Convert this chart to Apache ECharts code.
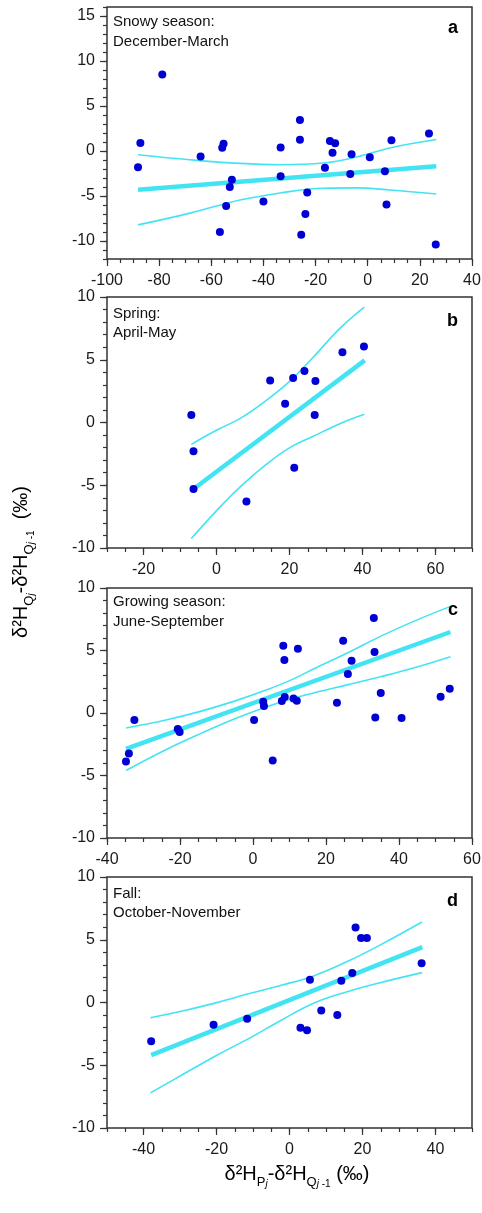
<!DOCTYPE html>
<html><head><meta charset="utf-8">
<script src="https://cdn.jsdelivr.net/npm/echarts@6/dist/echarts.min.js"></script>
<style>html,body{margin:0;padding:0;background:#fff}#c{width:482px;height:1213px}</style>
</head><body><div id="c"></div>
<script>
// ---- data ----
const pointsA = [[-88.1,-1.8],[-87.2,0.9],[-78.8,8.5],[-64.1,-0.6],[-55.3,0.8],[-55.8,0.35],[-52.1,-3.2],[-52.9,-4.0],[-54.3,-6.1],[-56.7,-9.0],[-40.0,-5.6],[-33.4,0.4],[-33.4,-2.8],[-26.0,3.45],[-26.0,1.25],[-25.5,-9.3],[-23.9,-7.0],[-23.2,-4.6],[-16.4,-1.85],[-14.5,1.1],[-12.5,0.85],[-13.5,-0.2],[-6.2,-0.35],[-6.7,-2.55],[0.8,-0.7],[6.6,-2.25],[7.2,-5.95],[9.1,1.2],[23.5,1.95],[26.1,-10.4]];
const regA = [[-88.1,-4.3],[26.3,-1.7]];
const upperA = [[-88.1,-0.41],[-68.1,-0.97],[-49,-1.38],[-33.6,-1.53],[-17,-1.34],[-4.3,-0.67],[8.5,0.34],[26.3,1.27]];
const lowerA = [[-88.1,-8.21],[-68.1,-6.9],[-49,-5.45],[-33.6,-4.66],[-17,-4.14],[-4.3,-4.1],[8.5,-4.33],[26.3,-4.78]];

const pointsB = [[-6.9,0.6],[-6.3,-2.3],[-6.3,-5.3],[8.2,-6.3],[14.7,3.35],[18.8,1.5],[21.0,3.55],[21.3,-3.6],[24.1,4.1],[27.1,3.3],[26.9,0.6],[34.5,5.6],[40.4,6.05]];
const regB = [[-6.3,-5.3],[40.6,4.95]];
const upperB = [[-6.9,-1.74],[0.1,-0.6],[6.5,0.33],[13.8,1.8],[20.1,3.3],[26.5,5.2],[33.8,7.5],[40.5,9.2]];
const lowerB = [[-6.9,-9.25],[0.1,-7.0],[6.5,-5.13],[13.8,-3.3],[20.1,-2.0],[26.5,-1.1],[33.8,-0.1],[40.5,0.65]];

const pointsC = [[-34.8,-3.87],[-34.0,-3.23],[-32.5,-0.56],[-20.6,-1.28],[-20.1,-1.52],[0.3,-0.56],[2.8,0.91],[3.0,0.56],[5.4,-3.79],[7.9,0.96],[8.7,1.28],[8.3,5.39],[8.6,4.24],[11.1,1.17],[12.0,0.99],[12.3,5.15],[23.0,0.83],[24.7,5.79],[26.0,3.12],[27.0,4.19],[33.1,7.6],[33.3,4.88],[33.5,-0.35],[35.0,1.6],[40.7,-0.4],[51.4,1.31],[53.9,1.95]];
const regC = [[-34.8,-2.87],[54.1,6.48]];
const upperC = [[-34.8,-1.2],[-23.6,-0.54],[-14.4,0.13],[-5.3,0.93],[3.8,1.86],[10.2,2.61],[16.6,3.52],[25.8,4.8],[34.9,6.13],[44.0,7.33],[54.1,8.53]];
const lowerC = [[-34.8,-4.6],[-23.6,-2.9],[-14.4,-1.65],[-5.3,-0.5],[3.8,0.5],[10.2,1.1],[16.6,1.6],[25.8,2.25],[34.9,2.9],[44.0,3.6],[54.1,4.5]];

const pointsD = [[-37.9,-3.08],[-20.8,-1.77],[-11.6,-1.29],[3.0,-2.01],[4.8,-2.22],[5.6,1.82],[8.7,-0.63],[13.1,-1.0],[14.2,1.74],[17.2,2.36],[18.1,5.98],[19.6,5.13],[21.2,5.13],[36.2,3.13]];
const regD = [[-37.9,-4.19],[36.4,4.41]];
const upperD = [[-38.1,-1.21],[-29.0,-0.65],[-19.9,-0.01],[-10.7,0.73],[-2.5,1.35],[6.6,2.12],[15.8,3.26],[24.9,4.59],[36.3,6.41]];
const lowerD = [[-38.1,-7.2],[-29.0,-5.7],[-19.9,-4.2],[-10.7,-2.8],[-2.5,-1.45],[6.6,-0.06],[15.8,0.86],[24.9,1.58],[36.3,2.38]];

const xTicksA = [-100,-80,-60,-40,-20,0,20,40];
const yTicksA = [-10,-5,0,5,10,15];
const xTicksB = [-20,0,20,40,60];
const xTicksC = [-40,-20,0,20,40,60];
const xTicksD = [-40,-20,0,20,40];
const yTicksBCD = [-10,-5,0,5,10];

const titlesText = [['Snowy season:','December-March'],['Spring:','April-May'],['Growing season:','June-September'],['Fall:','October-November']];
const letters = ['a','b','c','d'];

// ---- layout / style ----
const FONT = '"Liberation Sans", Arial, sans-serif';
const CYAN = '#42e4f4';
const BLUE = '#0000d4';
const AX = '#333333';
const panels = [
  {pts:pointsA, reg:regA, up:upperA, lo:lowerA, xr:[-100,40], yr:[-12,16], xt:xTicksA, yt:yTicksA, top:7, h:252, ty:12.5, ly:28.5},
  {pts:pointsB, reg:regB, up:upperB, lo:lowerB, xr:[-30,70], yr:[-10,10], xt:xTicksB, yt:yTicksBCD, top:297, h:251, ty:304, ly:321},
  {pts:pointsC, reg:regC, up:upperC, lo:lowerC, xr:[-40,60], yr:[-10,10], xt:xTicksC, yt:yTicksBCD, top:588, h:250, ty:592.5, ly:610.5},
  {pts:pointsD, reg:regD, up:upperD, lo:lowerD, xr:[-50,50], yr:[-10,10], xt:xTicksD, yt:yTicksBCD, top:877, h:251, ty:884, ly:901.5}
];

const grid=[], xAxis=[], yAxis=[], series=[], graphic=[];
const tickLine = {color:AX, width:1.2};
const noLine = {show:false, onZero:false};
panels.forEach((p,i)=>{
  grid.push({left:107, width:365, top:p.top, height:p.h, show:true, borderColor:AX, borderWidth:1.5,
    backgroundColor:'transparent', containLabel:false, outerBoundsMode:'none'});
  xAxis.push({type:'value', gridIndex:i, position:'bottom', min:p.xr[0], max:p.xr[1], interval:5,
    axisLine:noLine, splitLine:{show:false}, axisTick:{show:true, length:4, lineStyle:tickLine}, axisLabel:{show:false}});
  xAxis.push({type:'value', gridIndex:i, position:'bottom', min:p.xr[0], max:p.xr[1],
    axisLine:noLine, splitLine:{show:false},
    axisTick:{show:true, length:7, customValues:p.xt, lineStyle:tickLine},
    axisLabel:{show:true, customValues:p.xt, fontSize:16, fontFamily:FONT, color:'#1a1a1a', margin:14}});
  yAxis.push({type:'value', gridIndex:i, position:'left', min:p.yr[0], max:p.yr[1], interval:1,
    axisLine:noLine, splitLine:{show:false}, axisTick:{show:true, length:4, lineStyle:tickLine}, axisLabel:{show:false}});
  yAxis.push({type:'value', gridIndex:i, position:'left', min:p.yr[0], max:p.yr[1],
    axisLine:noLine, splitLine:{show:false},
    axisTick:{show:true, length:7, customValues:p.yt, lineStyle:tickLine},
    axisLabel:{show:true, customValues:p.yt, fontSize:16, fontFamily:FONT, color:'#1a1a1a', margin:12}});
  const xi = 2*i, yi = 2*i;
  series.push({type:'line', xAxisIndex:xi, yAxisIndex:yi, data:p.up, smooth:0.4, symbol:'none', lineStyle:{color:CYAN, width:1.6}, z:2, silent:true});
  series.push({type:'line', xAxisIndex:xi, yAxisIndex:yi, data:p.lo, smooth:0.4, symbol:'none', lineStyle:{color:CYAN, width:1.6}, z:2, silent:true});
  series.push({type:'line', xAxisIndex:xi, yAxisIndex:yi, data:p.reg, symbol:'none', lineStyle:{color:CYAN, width:4.5}, z:3, silent:true});
  series.push({type:'scatter', xAxisIndex:xi, yAxisIndex:yi, data:p.pts, symbolSize:8, itemStyle:{color:BLUE, opacity:1}, z:5});
  graphic.push({type:'text', x:113, y:p.ty, z:10, style:{text:titlesText[i].join('\n'), font:'15px '+FONT, fill:'#111', lineHeight:19.5, textVerticalAlign:'top', textAlign:'left'}});
  graphic.push({type:'text', x:458, y:p.ly, z:10, style:{text:letters[i], font:'bold 18px '+FONT, fill:'#000', textAlign:'right', textVerticalAlign:'middle'}});
});

const rich = {
  n:{fontSize:20, fontFamily:FONT, color:'#000', lineHeight:30, verticalAlign:'middle'},
  s:{fontSize:13, fontFamily:FONT, color:'#000', lineHeight:10, verticalAlign:'bottom'},
  j:{fontSize:10, fontFamily:FONT, fontStyle:'italic', color:'#000', lineHeight:2, verticalAlign:'bottom'},
  m:{fontSize:10, fontFamily:FONT, color:'#000', lineHeight:2, verticalAlign:'bottom'}
};
const xTitle = '{n|δ²H}{s|P}{j|j}{n|-δ²H}{s|Q}{j|j}{m| -1}{n| (‰)}';
const yTitle = '{n|δ²H}{s|Q}{j|j}{n|-δ²H}{s|Q}{j|j}{m| -1}{n|  (‰)}';
graphic.push({type:'text', x:297, y:1174, z:10, style:{text:xTitle, rich:rich, textAlign:'center', textVerticalAlign:'middle'}});
graphic.push({type:'text', x:21, y:562, rotation:Math.PI/2, z:10, style:{text:yTitle, rich:rich, textAlign:'center', textVerticalAlign:'middle'}});

const chart = echarts.init(document.getElementById('c'), null, {renderer:'canvas'});
chart.setOption({animation:false, backgroundColor:'#fff', grid, xAxis, yAxis, series, graphic});
</script></body></html>
